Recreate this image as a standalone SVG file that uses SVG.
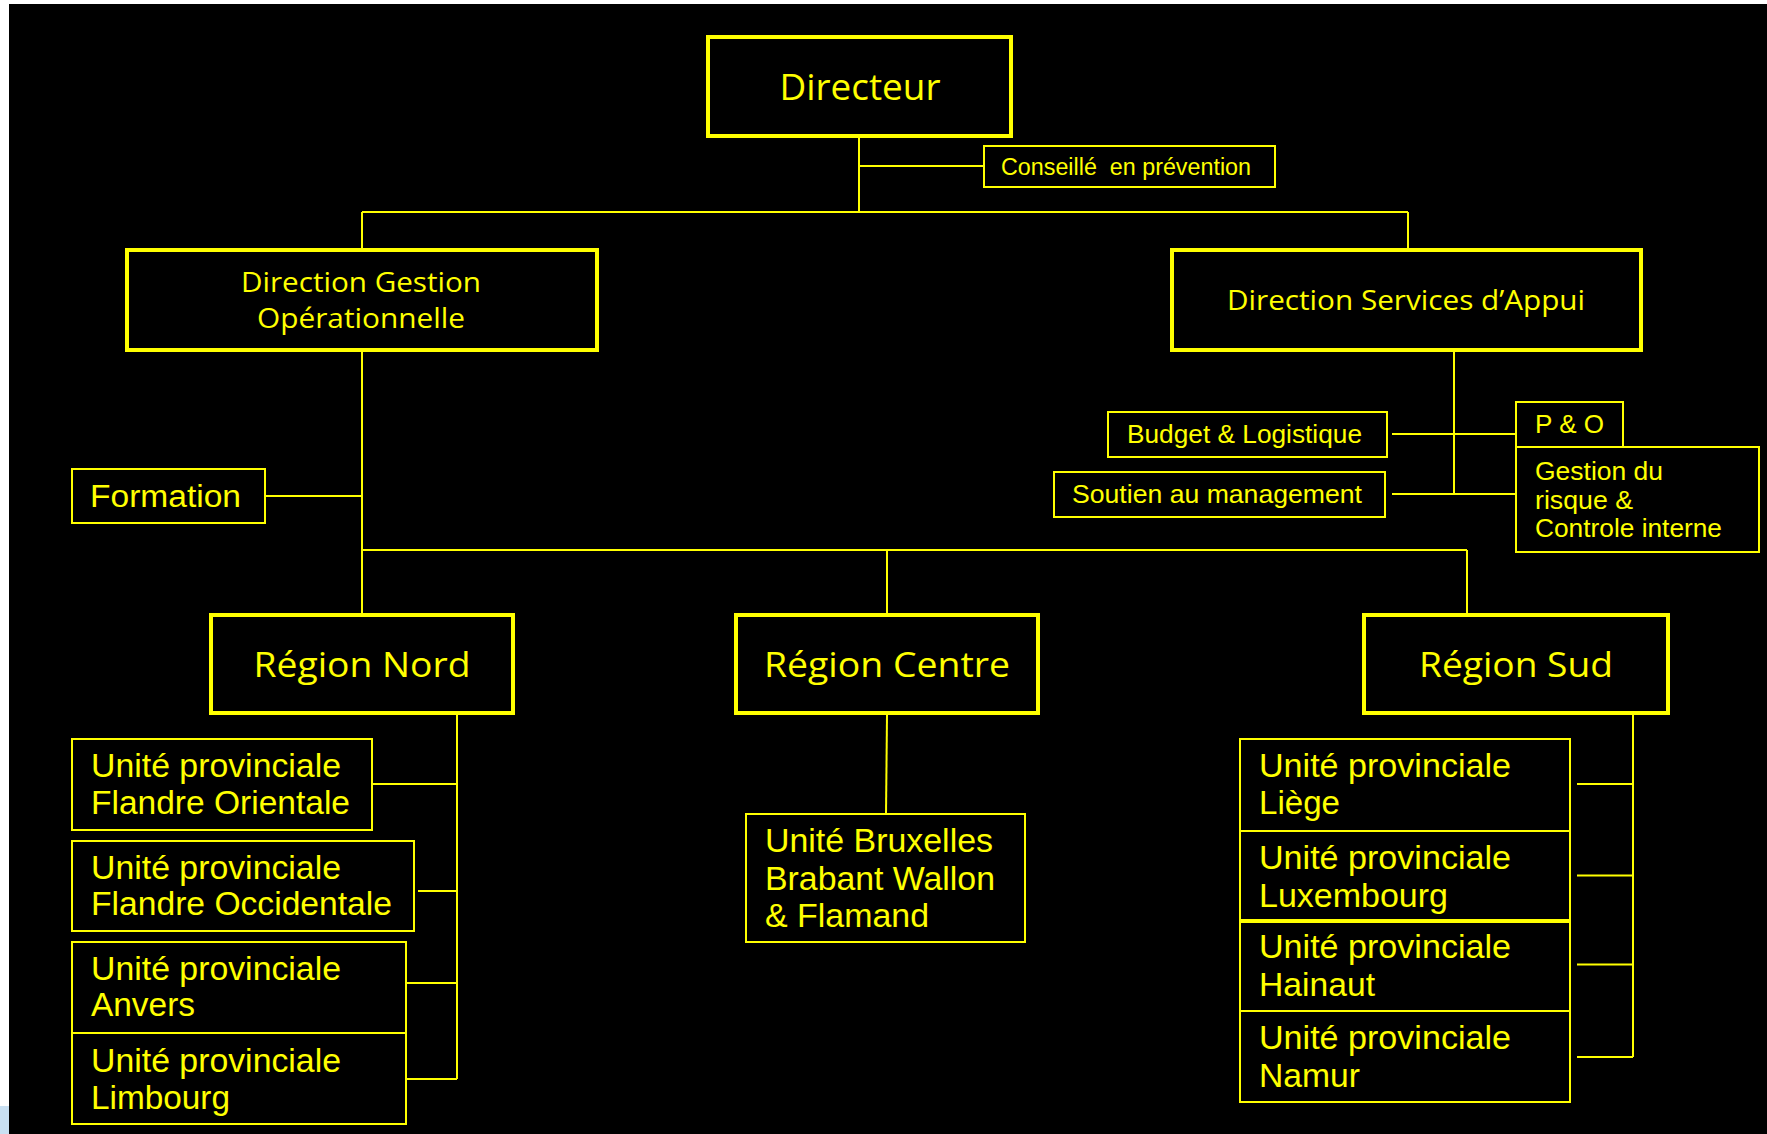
<svg xmlns="http://www.w3.org/2000/svg" width="1767" height="1134" viewBox="0 0 1767 1134">
<style>
.thick{fill:#000;stroke:#FFFF00;stroke-width:4}
.thin{fill:#000;stroke:#FFFF00;stroke-width:2}
.cal{font-family:"Open Sans","Noto Sans",sans-serif;fill:#FFFF00}
.ar{font-family:"Liberation Sans",Arial,sans-serif;fill:#FFFF00}
#connectors line,#connectors polyline{stroke:#FFFF00;stroke-width:2;fill:none}
</style>
<rect x="0" y="0" width="1767" height="1134" fill="#ffffff"/>
<rect x="0" y="1106" width="9" height="28" fill="#c9e0f2"/>
<rect x="9" y="4" width="1758" height="1130" fill="#000000"/>
<g id="connectors">
<line x1="859" y1="138" x2="859" y2="212"/>
<line x1="859" y1="166" x2="984" y2="166"/>
<line x1="362" y1="212" x2="1408" y2="212"/>
<line x1="362" y1="212" x2="362" y2="250"/>
<line x1="1408" y1="212" x2="1408" y2="250"/>
<line x1="362" y1="352" x2="362" y2="615"/>
<line x1="265" y1="496" x2="362" y2="496"/>
<line x1="362" y1="550" x2="1467" y2="550"/>
<line x1="887" y1="550" x2="887" y2="615"/>
<line x1="1467" y1="550" x2="1467" y2="615"/>
<line x1="1454" y1="352" x2="1454" y2="494"/>
<line x1="1392" y1="434" x2="1516" y2="434"/>
<line x1="1392" y1="494" x2="1516" y2="494"/>
<line x1="457" y1="715" x2="457" y2="1079"/>
<line x1="372" y1="784" x2="457" y2="784"/>
<line x1="418" y1="891" x2="457" y2="891"/>
<line x1="406" y1="983" x2="457" y2="983"/>
<line x1="406" y1="1079" x2="457" y2="1079"/>
<line x1="887" y1="715" x2="886" y2="814"/>
<line x1="1633" y1="715" x2="1633" y2="1057"/>
<line x1="1577" y1="784" x2="1633" y2="784"/>
<line x1="1577" y1="875.5" x2="1633" y2="875.5"/>
<line x1="1577" y1="964.5" x2="1633" y2="964.5"/>
<line x1="1577" y1="1057" x2="1633" y2="1057"/>
</g>
<g id="directeur">
<rect class="thick" x="708" y="37" width="303" height="99"/>
<text class="cal" x="860" y="100" font-size="36" text-anchor="middle" textLength="161" lengthAdjust="spacingAndGlyphs">Directeur</text>
</g>
<g id="conseille">
<rect class="thin" x="984" y="146" width="291" height="41"/>
<text class="ar" x="1001" y="175" font-size="23" textLength="250" lengthAdjust="spacingAndGlyphs" xml:space="preserve">Conseillé  en prévention</text>
</g>
<g id="dgo">
<rect class="thick" x="127" y="250" width="470" height="100"/>
<text class="cal" x="361" y="292" font-size="28" text-anchor="middle" textLength="240" lengthAdjust="spacingAndGlyphs">Direction Gestion</text>
<text class="cal" x="361" y="328" font-size="28" text-anchor="middle" textLength="208" lengthAdjust="spacingAndGlyphs">Opérationnelle</text>
</g>
<g id="dsa">
<rect class="thick" x="1172" y="250" width="469" height="100"/>
<text class="cal" x="1406" y="310" font-size="28" text-anchor="middle" textLength="358" lengthAdjust="spacingAndGlyphs">Direction Services d’Appui</text>
</g>
<g id="formation">
<rect class="thin" x="72" y="469" width="193" height="54"/>
<text class="ar" x="90" y="507" font-size="31" textLength="151" lengthAdjust="spacingAndGlyphs">Formation</text>
</g>
<g id="budget">
<rect class="thin" x="1108" y="412" width="279" height="45"/>
<text class="ar" x="1127" y="443" font-size="25" textLength="235" lengthAdjust="spacingAndGlyphs">Budget &amp; Logistique</text>
</g>
<g id="soutien">
<rect class="thin" x="1054" y="472" width="331" height="45"/>
<text class="ar" x="1072" y="503" font-size="25" textLength="290" lengthAdjust="spacingAndGlyphs">Soutien au management</text>
</g>
<g id="po">
<rect class="thin" x="1516" y="402" width="107" height="45"/>
<text class="ar" x="1535" y="433" font-size="25" textLength="69" lengthAdjust="spacingAndGlyphs">P &amp; O</text>
</g>
<g id="gestion-risque">
<rect class="thin" x="1516" y="447" width="243" height="105"/>
<text class="ar" x="1535" y="480" font-size="25" textLength="128" lengthAdjust="spacingAndGlyphs">Gestion du</text>
<text class="ar" x="1535" y="509" font-size="25" textLength="98" lengthAdjust="spacingAndGlyphs">risque &amp;</text>
<text class="ar" x="1535" y="537" font-size="25" textLength="187" lengthAdjust="spacingAndGlyphs">Controle interne</text>
</g>
<g id="region-nord">
<rect class="thick" x="211" y="615" width="302" height="98"/>
<text class="cal" x="362" y="677" font-size="35" text-anchor="middle" textLength="217" lengthAdjust="spacingAndGlyphs">Région Nord</text>
</g>
<g id="region-centre">
<rect class="thick" x="736" y="615" width="302" height="98"/>
<text class="cal" x="887" y="677" font-size="35" text-anchor="middle" textLength="246" lengthAdjust="spacingAndGlyphs">Région Centre</text>
</g>
<g id="region-sud">
<rect class="thick" x="1364" y="615" width="304" height="98"/>
<text class="cal" x="1516" y="677" font-size="35" text-anchor="middle" textLength="194" lengthAdjust="spacingAndGlyphs">Région Sud</text>
</g>
<g id="up-flandre-orientale">
<rect class="thin" x="72" y="739" width="300" height="91"/>
<text class="ar" x="91" y="777" font-size="33" textLength="250" lengthAdjust="spacingAndGlyphs">Unité provinciale</text>
<text class="ar" x="91" y="813.5" font-size="33" textLength="259" lengthAdjust="spacingAndGlyphs">Flandre Orientale</text>
</g>
<g id="up-flandre-occidentale">
<rect class="thin" x="72" y="841" width="342" height="90"/>
<text class="ar" x="91" y="879" font-size="33" textLength="250" lengthAdjust="spacingAndGlyphs">Unité provinciale</text>
<text class="ar" x="91" y="915" font-size="33" textLength="301" lengthAdjust="spacingAndGlyphs">Flandre Occidentale</text>
</g>
<g id="up-anvers">
<rect class="thin" x="72" y="942" width="334" height="91"/>
<text class="ar" x="91" y="980" font-size="33" textLength="250" lengthAdjust="spacingAndGlyphs">Unité provinciale</text>
<text class="ar" x="91" y="1016" font-size="33" textLength="104" lengthAdjust="spacingAndGlyphs">Anvers</text>
</g>
<g id="up-limbourg">
<rect class="thin" x="72" y="1033" width="334" height="91"/>
<text class="ar" x="91" y="1072" font-size="33" textLength="250" lengthAdjust="spacingAndGlyphs">Unité provinciale</text>
<text class="ar" x="91" y="1108.5" font-size="33" textLength="139" lengthAdjust="spacingAndGlyphs">Limbourg</text>
</g>
<g id="unite-bruxelles">
<rect class="thin" x="746" y="814" width="279" height="128"/>
<text class="ar" x="765" y="852" font-size="33" textLength="228" lengthAdjust="spacingAndGlyphs">Unité Bruxelles</text>
<text class="ar" x="765" y="889.5" font-size="33" textLength="230" lengthAdjust="spacingAndGlyphs">Brabant Wallon</text>
<text class="ar" x="765" y="927" font-size="33" textLength="164" lengthAdjust="spacingAndGlyphs">&amp; Flamand</text>
</g>
<g id="up-liege">
<rect class="thin" x="1240" y="739" width="330" height="92"/>
<text class="ar" x="1259" y="777" font-size="33" textLength="252" lengthAdjust="spacingAndGlyphs">Unité provinciale</text>
<text class="ar" x="1259" y="813.5" font-size="33" textLength="81" lengthAdjust="spacingAndGlyphs">Liège</text>
</g>
<g id="up-luxembourg">
<rect class="thin" x="1240" y="831" width="330" height="89"/>
<text class="ar" x="1259" y="869" font-size="33" textLength="252" lengthAdjust="spacingAndGlyphs">Unité provinciale</text>
<text class="ar" x="1259" y="906.5" font-size="33" textLength="189" lengthAdjust="spacingAndGlyphs">Luxembourg</text>
</g>
<g id="up-hainaut">
<rect class="thin" x="1240" y="922" width="330" height="89"/>
<text class="ar" x="1259" y="957.5" font-size="33" textLength="252" lengthAdjust="spacingAndGlyphs">Unité provinciale</text>
<text class="ar" x="1259" y="996" font-size="33" textLength="116" lengthAdjust="spacingAndGlyphs">Hainaut</text>
</g>
<g id="up-namur">
<rect class="thin" x="1240" y="1011" width="330" height="91"/>
<text class="ar" x="1259" y="1049" font-size="33" textLength="252" lengthAdjust="spacingAndGlyphs">Unité provinciale</text>
<text class="ar" x="1259" y="1086.5" font-size="33" textLength="101" lengthAdjust="spacingAndGlyphs">Namur</text>
</g>
</svg>
